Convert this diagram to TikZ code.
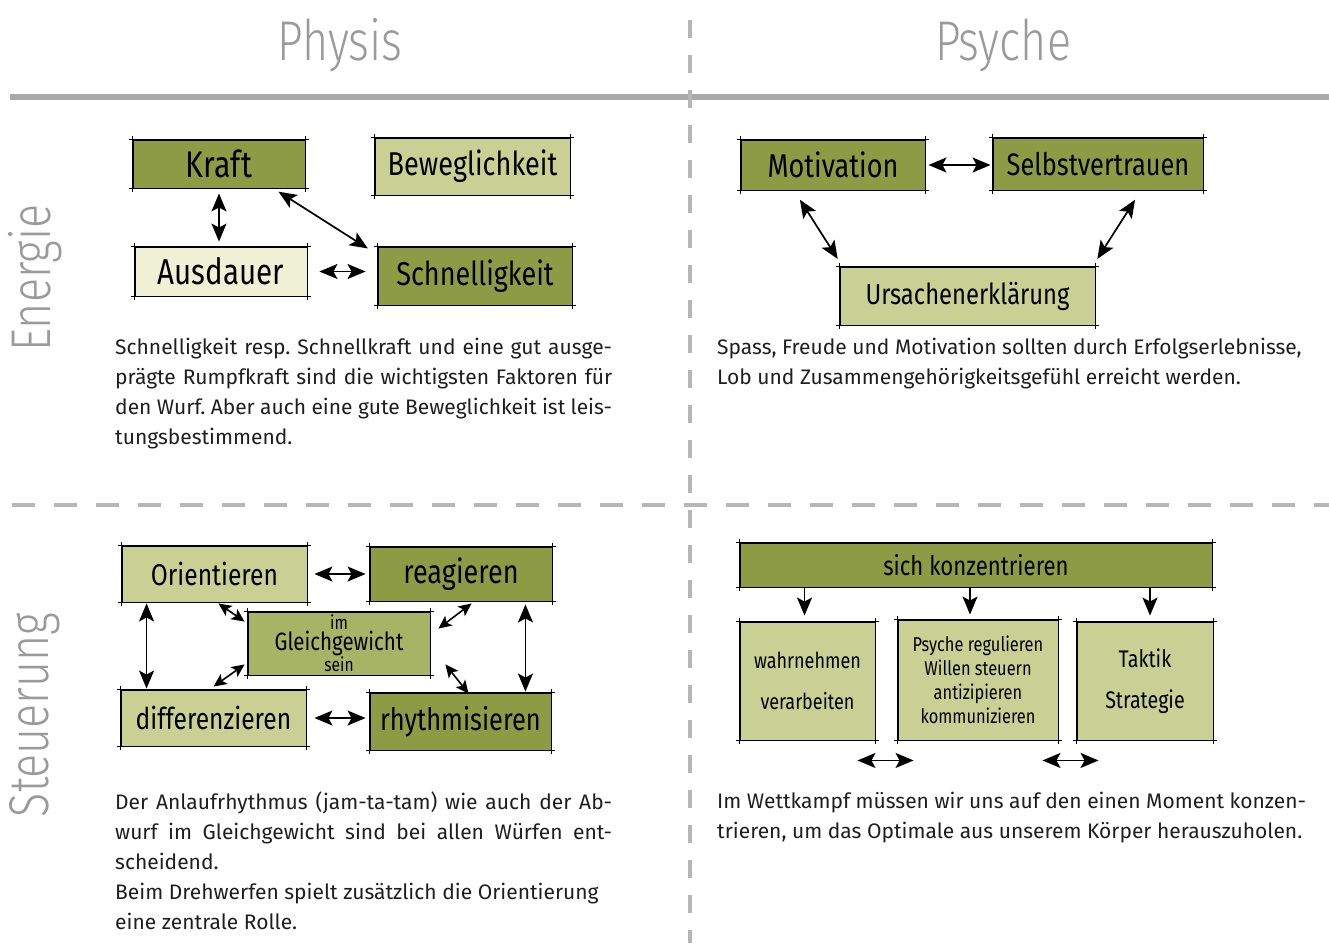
\documentclass[tikz,border=0pt]{standalone}
\usepackage{fontspec}
\setmainfont{Fira Sans}
\newfontfamily\handfont[FakeStretch=0.82]{Fira Sans}
\newfontfamily\headfont[FakeStretch=0.8]{Fira Sans Light}
\usetikzlibrary{arrows.meta}

\definecolor{olivedark}{HTML}{8E9B45}
\definecolor{olivemid}{HTML}{A7B466}
\definecolor{olivelight}{HTML}{C8D193}
\definecolor{olivepale}{HTML}{EEF1D3}
\definecolor{rulegray}{HTML}{A9A9A9}
\definecolor{handgray}{HTML}{9A9A9A}
\definecolor{bodyink}{HTML}{1E1E1E}

\newcommand{\jline}[2][497pt]{\makebox[#1][s]{#2}}
\newcommand{\handsize}[1]{\handfont\fontsize{#1}{#1}\selectfont}

\tikzset{
  box/.style={draw=black, line width=0.9pt, inner sep=2pt, align=center,
    font=\handsize{33}},
  darkbox/.style={box, fill=olivedark},
  midbox/.style={box, fill=olivemid},
  lightbox/.style={box, fill=olivelight},
  palebox/.style={box, fill=olivepale},
  sketch/.style={line width=0.9pt},
  both/.style={{Stealth[length=18pt,width=15pt,inset=4pt]}-{Stealth[length=18pt,width=15pt,inset=4pt]}, line width=1.7pt},
  shortboth/.style={{Stealth[length=13pt,width=12pt,inset=3pt]}-{Stealth[length=13pt,width=12pt,inset=3pt]}, line width=1.6pt},
  down/.style={-{Stealth[length=18pt,width=15pt,inset=4pt]}, line width=1.6pt},
  body/.style={anchor=north west, inner sep=0pt, align=left, text=bodyink,
    font=\fontsize{21}{30}\selectfont\frenchspacing},
  heading/.style={text=handgray, font=\headfont\fontsize{56}{58}\selectfont},
}

\begin{document}
\begin{tikzpicture}[x=1pt,y=-1pt]
   \useasboundingbox (0,0) rectangle (1329,943);

   % grid of the page
   \draw[rulegray, line width=6pt] (10,97) -- (1329,97);
   \draw[rulegray!85, line width=4pt, dash pattern=on 18pt off 17pt] (690,20) -- (690,943);
   \draw[rulegray!85, line width=3.5pt, dash pattern=on 23pt off 19pt] (12,505) -- (1329,505);

   \node[heading] (physis) at (340,45) {Physis};
   \node[heading] (psyche) at (1003,45) {Psyche};
   \node[heading, rotate=90] (energie) at (35,278) {Energie};
   \node[heading, rotate=90] (steuerung) at (35,715) {Steuerung};

   % Energie / Physis
   \node[darkbox, minimum width=172pt, minimum height=48pt, font=\handsize{37}] (kraft) at (219,164) {Kraft};
   \node[lightbox, minimum width=195pt, minimum height=57pt] (beweg) at (472.5,166.5) {Beweglichkeit};
   \node[palebox, minimum width=172pt, minimum height=49pt, font=\handsize{36}] (ausdauer) at (221,271.5) {Ausdauer};
   \node[darkbox, minimum width=194pt, minimum height=58pt] (schnell) at (475,276) {Schnelligkeit};

   \draw[both, shorten <=5pt, shorten >=5pt] (kraft.south) -- (kraft.south |- ausdauer.north);
   \draw[both, shorten <=12pt, shorten >=12pt] (ausdauer.east) -- (ausdauer.east -| schnell.west);
   \draw[both, shorten <=6pt, shorten >=2pt] ([xshift=-32pt]kraft.south east) -- ([xshift=-8pt,yshift=-3pt]schnell.north west);

   % Energie / Psyche
   \node[darkbox, minimum width=184pt, minimum height=50pt] (motiv) at (833,165) {Motivation};
   \node[darkbox, minimum width=210pt, minimum height=52pt, font=\handsize{31}] (selbst) at (1098,164) {Selbstvertrauen};
   \node[lightbox, minimum width=255pt, minimum height=58pt, font=\handsize{29}] (ursache) at (967.5,296) {Ursachenerklärung};

   \draw[both, shorten <=3pt, shorten >=2pt] (motiv.east) -- (motiv.east -| selbst.west);
   \draw[both, shorten <=11pt, shorten >=9pt] ([xshift=-39pt]motiv.south) -- ([xshift=3pt]ursache.north west);
   \draw[both, shorten <=11pt, shorten >=9pt] ([xshift=43pt]selbst.south) -- ([xshift=-3pt]ursache.north east);

   % Steuerung / Physis
   \node[lightbox, minimum width=185pt, minimum height=56pt, font=\handsize{30}] (orient) at (214.5,574) {Orientieren};
   \node[darkbox, minimum width=182pt, minimum height=54pt] (reag) at (461,574) {reagieren};
   \node[midbox, minimum width=182pt, minimum height=63pt, inner sep=0pt,
         font=\handfont\fontsize{25}{21}\selectfont] (gleich) at (339,643.5)
         {{\fontsize{19}{21}\selectfont im}\\Gleichgewicht\\{\fontsize{19}{21}\selectfont sein}};
   \node[lightbox, minimum width=185pt, minimum height=56pt, font=\handsize{30}] (diff) at (213.5,718) {differenzieren};
   \node[darkbox, minimum width=181pt, minimum height=57pt, font=\handsize{31}] (rhythm) at (460.5,721.5) {rhythmisieren};

   \draw[both, shorten <=7pt, shorten >=4pt] (orient.east) -- (orient.east -| reag.west);
   \draw[both, shorten <=8pt, shorten >=4pt] (diff.east) -- (diff.east -| rhythm.west);
   \draw[both, shorten <=1pt, shorten >=1pt] ([xshift=25pt]orient.south west) -- ([xshift=25pt]orient.south west |- diff.north);
   \draw[both, shorten <=3pt, shorten >=1pt] ([xshift=-27pt]reag.south east) -- ([xshift=-27pt]reag.south east |- rhythm.north);
   \draw[shortboth] ([xshift=-89pt,yshift=-1pt]orient.south east) -- ([xshift=-3pt,yshift=-10pt]gleich.north west);
   \draw[shortboth] ([xshift=102pt,yshift=-2pt]reag.south west) -- ([xshift=8pt,yshift=-17pt]gleich.north east);
   \draw[shortboth] ([xshift=93pt,yshift=3pt]diff.north west) -- ([xshift=-3pt,yshift=11pt]gleich.south west);
   \draw[shortboth] ([xshift=15pt,yshift=11pt]gleich.south east) -- ([xshift=99pt,yshift=-1pt]rhythm.north west);

   % Steuerung / Psyche
   \node[darkbox, minimum width=472pt, minimum height=44pt, font=\handsize{27}] (konz) at (976,565) {sich konzentrieren};
   \node[lightbox, minimum width=135pt, minimum height=118pt,
         font=\handfont\fontsize{22}{24}\selectfont] (wahr) at (807.5,681) {wahrnehmen\\[17pt]verarbeiten};
   \node[lightbox, minimum width=160pt, minimum height=120pt,
         font=\handfont\fontsize{20}{24}\selectfont] (psy) at (978,680)
         {Psyche regulieren\\Willen steuern\\antizipieren\\kommunizieren};
   \node[lightbox, minimum width=136pt, minimum height=118pt,
         font=\handfont\fontsize{24}{25}\selectfont] (taktik) at (1145,681) {Taktik\\[16pt]Strategie};

   \draw[down, shorten >=6pt] ([xshift=-3pt]wahr.north |- konz.south) -- ([xshift=-3pt]wahr.north);
   \draw[down, shorten >=5pt] ([xshift=-8pt]psy.north |- konz.south) -- ([xshift=-8pt]psy.north);
   \draw[down, shorten >=6pt] ([xshift=5pt]taktik.north |- konz.south) -- ([xshift=5pt]taktik.north);
   \draw[both] ([xshift=-18pt,yshift=-20pt]wahr.south east) -- ([xshift=16pt,yshift=-20pt]psy.south west);
   \draw[both] ([xshift=-16pt,yshift=-20pt]psy.south east) -- ([xshift=22pt,yshift=-20pt]taktik.south west);

   % sketched corners
   \foreach \b in {kraft,beweg,ausdauer,schnell,motiv,selbst,ursache,orient,reag,gleich,diff,rhythm,konz,wahr,psy,taktik}{
     \draw[sketch] ([xshift=-4pt]\b.north west) -- ([xshift=4pt]\b.north east);
     \draw[sketch] ([xshift=-4pt]\b.south west) -- ([xshift=4pt]\b.south east);
     \draw[sketch] ([yshift=4pt]\b.north west) -- ([yshift=-4pt]\b.south west);
     \draw[sketch] ([yshift=4pt]\b.north east) -- ([yshift=-4pt]\b.south east);
   }

   % texts
   \node[body] (txtenergie) at (115,338)
     {\jline{Schnelligkeit resp. Schnellkraft und eine gut ausge-}\\
      \jline{prägte Rumpfkraft sind die wichtigsten Faktoren für}\\
      \jline{den Wurf. Aber auch eine gute Beweglichkeit ist leis-}\\
      tungsbestimmend.};
   \node[body] (txtmotiv) at (717,338)
     {Spass, Freude und Motivation sollten durch Erfolgserlebnisse,\\
      Lob und Zusammengehörigkeitsgefühl erreicht werden.};
   \node[body] (txtrhythm) at (115,792)
     {\jline{Der Anlaufrhythmus (jam-ta-tam) wie auch der Ab-}\\
      \jline{wurf im Gleichgewicht sind bei allen Würfen ent-}\\
      scheidend.\\
      Beim Drehwerfen spielt zusätzlich die Orientierung\\
      eine zentrale Rolle.};
   \node[body] (txtkonz) at (717,792)
     {Im Wettkampf müssen wir uns auf den einen Moment konzen-\\
      trieren, um das Optimale aus unserem Körper herauszuholen.};
\end{tikzpicture}
\end{document}
